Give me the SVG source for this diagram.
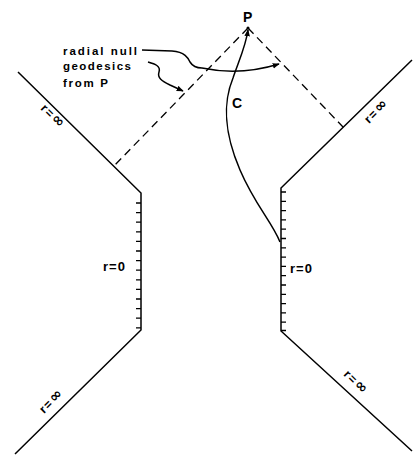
<svg xmlns="http://www.w3.org/2000/svg" width="414" height="455" viewBox="0 0 414 455">
<defs>
<marker id="ah" viewBox="0 0 10 10" refX="9" refY="5" markerWidth="7" markerHeight="7" markerUnits="userSpaceOnUse" orient="auto">
<path d="M0,1 L10,5 L0,9 z" fill="#000"/>
</marker>
<style>
.ln{fill:none;stroke:#000;stroke-width:1.5}
.tk{fill:none;stroke:#000;stroke-width:1.3}
.ds{fill:none;stroke:#000;stroke-width:1.3;stroke-dasharray:8,5}
.t{font-family:"Liberation Sans",Arial,sans-serif;font-weight:bold;fill:#000}
.inf{font-family:"DejaVu Sans","Liberation Sans",sans-serif;font-weight:bold;font-size:15px}
</style>
</defs>
<rect width="414" height="455" fill="#fff"/>
<g id="left-boundary">
<path class="ln" d="M18,72 L141,193 L141,330 L15,454"/>
<path class="tk" d="M136,203H141M136,212.6H141M136,222.2H141M136,231.8H141M136,241.4H141M136,251H141M136,260.6H141M136,270.2H141M136,279.8H141M136,289.4H141M136,299H141M136,308.6H141M136,318.2H141M136,327.8H141"/>
<text class="t" font-size="12" letter-spacing="1.5" transform="translate(40,109) rotate(45)">r=<tspan class="inf">∞</tspan></text>
<text class="t" font-size="13" letter-spacing="1" x="103" y="271">r=0</text>
<text class="t" font-size="12" letter-spacing="1.5" transform="translate(44,414) rotate(-45)">r=<tspan class="inf">∞</tspan></text>
</g>
<g id="right-boundary">
<path class="ln" d="M412,60 L281,188 L281,331 L412,451"/>
<path class="tk" d="M281,192H286M281,201.3H286M281,210.6H286M281,219.9H286M281,229.2H286M281,238.5H286M281,247.8H286M281,257.1H286M281,266.4H286M281,275.7H286M281,285H286M281,294.3H286M281,303.6H286M281,312.9H286M281,322.2H286M281,330.5H286"/>
<text class="t" font-size="12" letter-spacing="1.5" transform="translate(369,124) rotate(-45)">r=<tspan class="inf">∞</tspan></text>
<text class="t" font-size="13" letter-spacing="1" x="290" y="273">r=0</text>
<text class="t" font-size="12" letter-spacing="1.5" transform="translate(343,375) rotate(45)">r=<tspan class="inf">∞</tspan></text>
</g>
<g id="P">
<circle cx="248" cy="28" r="1.5" fill="#000"/>
<text class="t" font-size="14" x="243" y="22">P</text>
</g>
<g id="label">
<text class="t" font-size="11.5" x="63" y="55" textLength="74">radial null</text>
<text class="t" font-size="11.5" x="63" y="70" textLength="68">geodesics</text>
<text class="t" font-size="11.5" x="63" y="87" textLength="45">from P</text>
</g>
<g id="curve-C">
<text class="t" font-size="14" x="232" y="108">C</text>
</g>
<g id="connectors">
<path class="ds" d="M248,28 L114,166"/>
<path class="ds" d="M248,28 L343,127"/>
<path class="ln" marker-end="url(#ah)" d="M280,242 C272,222 255,205 240,170 C222,128 224,100 233,78 C240,58 246,45 248,30"/>
<path class="ln" marker-end="url(#ah)" d="M142,50 L172,51 C185,52 188,58 190,62 C193,67 197,68 202,68 Q240,76 279,64"/>
<path class="ln" marker-end="url(#ah)" d="M148,62 C155,64 161,66 159,72 C157,78 162,81 170,85 L183,91"/>
</g>
</svg>
